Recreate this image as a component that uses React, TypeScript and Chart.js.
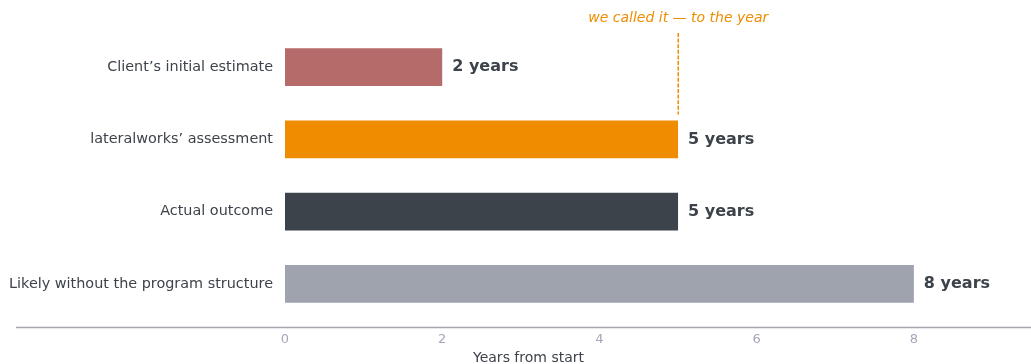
import React, { useEffect, useRef } from "react";
import { Chart, registerables } from "chart.js";

Chart.register(...registerables);

const categories = [
  "Client’s initial estimate",
  "lateralworks’ assessment",
  "Actual outcome",
  "Likely without the program structure",
];
const years = [2, 5, 5, 8];
const valueLabels = ["2 years", "5 years", "5 years", "8 years"];
const barColors = ["#b56b69", "#f08c00", "#3d434b", "#9ea3ae"];
const xTicks = [0, 2, 4, 6, 8];
const xTitle = "Years from start";
const annotationValue = 5;
const annotationText = "we called it — to the year";

const FONT = "'DejaVu Sans', sans-serif";

const overlayPlugin = {
  id: "overlay",
  afterDatasetsDraw(chart: any) {
    const ctx = chart.ctx;
    const meta = chart.getDatasetMeta(0);
    const xs = chart.scales.x;
    const area = chart.chartArea;
    ctx.save();
    // value labels
    ctx.font = `bold 16px ${FONT}`;
    ctx.fillStyle = "#3d434b";
    ctx.textAlign = "left";
    ctx.textBaseline = "middle";
    meta.data.forEach((bar: any, i: number) => {
      ctx.fillText(valueLabels[i], bar.x + 10, bar.y);
    });
    // annotation
    const ax = Math.round(xs.getPixelForValue(annotationValue)) - 0.5 + 0.75;
    const bar1 = meta.data[1];
    ctx.strokeStyle = "#f08c00";
    ctx.lineWidth = 1.5;
    ctx.setLineDash([4, 1.6]);
    ctx.beginPath();
    ctx.moveTo(ax, area.top + 2);
    ctx.lineTo(ax, bar1.y - bar1.height / 2 - 6);
    ctx.stroke();
    ctx.setLineDash([]);
    ctx.font = `italic 14px ${FONT}`;
    ctx.fillStyle = "#f08c00";
    ctx.textAlign = "center";
    ctx.textBaseline = "middle";
    ctx.fillText(annotationText, ax, area.top - 13);
    // bottom axis line
    ctx.strokeStyle = "#a3a6ad";
    ctx.lineWidth = 1.3;
    ctx.beginPath();
    const ly = Math.round(area.bottom + 7) + 0.5;
    ctx.moveTo(16, ly);
    ctx.lineTo(chart.width, ly);
    ctx.stroke();
    // axis title
    ctx.font = `14px ${FONT}`;
    ctx.fillStyle = "#3d434b";
    ctx.textAlign = "center";
    ctx.textBaseline = "middle";
    ctx.fillText(xTitle, (16 + chart.width) / 2 + 5, chart.height - 6);
    ctx.restore();
  },
};

export default function App() {
  const ref = useRef<HTMLCanvasElement>(null);
  useEffect(() => {
    document.body.style.margin = "0";
    const chart = new Chart(ref.current!, {
      type: "bar",
      data: {
        labels: categories,
        datasets: [
          {
            data: years,
            backgroundColor: barColors,
            borderWidth: 0,
            barPercentage: 0.52,
            categoryPercentage: 1,
          },
        ],
      },
      options: {
        indexAxis: "y",
        animation: false,
        responsive: false,
        maintainAspectRatio: false,
        layout: { padding: { top: 31, right: 0, left: 0, bottom: 0 } },
        plugins: { legend: { display: false }, tooltip: { enabled: false } },
        scales: {
          x: {
            min: 0,
            max: 9.49,
            afterBuildTicks: (s: any) => {
              s.ticks = xTicks.map((v) => ({ value: v }));
            },
            grid: { display: false, drawTicks: false },
            border: { display: false },
            ticks: {
              color: "#a6a6bd",
              font: { family: FONT, size: 13 },
              padding: 12,
            },
            afterFit: (s: any) => {
              s.height = 44;
            },
          },
          y: {
            grid: { display: false, drawTicks: false },
            border: { display: false },
            ticks: {
              color: "#3d434b",
              font: { family: FONT, size: 14.4 },
              padding: 12,
            },
            afterFit: (s: any) => {
              s.width = 285;
            },
          },
        },
      },
      plugins: [overlayPlugin],
    });
    return () => chart.destroy();
  }, []);
  return <canvas ref={ref} width={1031} height={364} style={{ display: "block" }} />;
}
